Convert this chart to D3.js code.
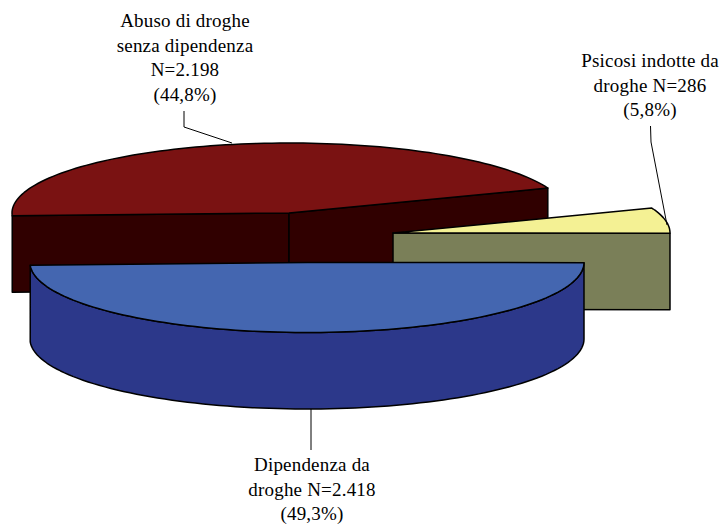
<!DOCTYPE html>
<html><head><meta charset="utf-8">
<script src="https://cdn.jsdelivr.net/npm/d3@7"></script>
<style>html,body{margin:0;padding:0;background:#fff}svg{display:block}</style>
</head><body><svg id="c" width="723" height="525"></svg>
<script>
const categories = ["Abuso di droghe senza dipendenza", "Psicosi indotte da droghe", "Dipendenza da droghe"];
const values = [2198, 286, 2418];
const topColors = ["#7A1212", "#F4F194", "#4466B0"];
const sideColors = ["#300000", "#7A7F58", "#2C388A"];
const labelLines = [
  ["Abuso di droghe", "senza dipendenza", "N=2.198", "(44,8%)"],
  ["Psicosi indotte da", "droghe N=286", "(5,8%)"],
  ["Dipendenza da", "droghe N=2.418", "(49,3%)"]
];
const labelAnchors = [[185, 27], [650, 67], [312, 471]];
const lineHeight = 24.5;
const centers = [[289, 213], [393, 233], [307, 262.5]];
const rx = 277, ry = 70, depth = 76.5;
const rotationDeg = -92.3;

const svg = d3.select("#c");
const toRad = Math.PI / 180;
const pie = d3.pie().sort(null).startAngle(rotationDeg * toRad).endAngle((rotationDeg + 360) * toRad);
const arcs = pie(values);
const sx = d3.scaleLinear().domain([-1, 1]).range([-rx, rx]);
const sy = d3.scaleLinear().domain([-1, 1]).range([-ry, ry]);
const pt = (i, a, dz = 0) => [centers[i][0] + sx(Math.sin(a)), centers[i][1] + sy(-Math.cos(a)) + dz];
const line = d3.line();
const poly = (pts, fill) => svg.append("path").attr("d", line(pts) + "Z").attr("fill", fill)
  .attr("stroke", "#000").attr("stroke-width", 1.5).attr("stroke-linejoin", "round");
const sampled = (s, e) => d3.range(0, 101).map(k => s + (e - s) * k / 100);

arcs.forEach((d, i) => {
  const c = centers[i], s = d.startAngle, e = d.endAngle;
  const side = sideColors[i];
  const a = pt(i, s), b = pt(i, e);
  if (i === 0) {
    poly([a, c, [c[0], c[1] + depth], [a[0], a[1] + depth]], side);
    poly([c, b, [b[0], b[1] + depth], [c[0], c[1] + depth]], side);
  } else if (i === 1) {
    poly([c, b, [b[0], b[1] + depth], [c[0], c[1] + depth]], side);
  } else {
    const arcPts = sampled(s, e);
    const upper = arcPts.map(t => pt(i, t));
    const lower = arcPts.map(t => pt(i, t, depth)).reverse();
    poly(upper.concat(lower), side);
  }
  poly([c].concat(sampled(s, e).map(t => pt(i, t))), topColors[i]);
});

labelLines.forEach((ls, i) => {
  const t = svg.append("text").attr("text-anchor", "middle")
    .attr("font-family", "'Liberation Serif','Times New Roman',serif")
    .attr("font-size", 19).attr("letter-spacing", 0.2).attr("fill", "#000");
  ls.forEach((l, j) => t.append("tspan").attr("x", labelAnchors[i][0])
    .attr("y", labelAnchors[i][1] + j * lineHeight).text(l));
});

const leaderPaths = [
  [[184, 111], [184, 127], [232, 143]],
  [[650.5, 126], [651, 142], [667, 225]],
  [[311, 409], [311, 450]]
];
leaderPaths.forEach(p => svg.append("path").attr("d", line(p)).attr("fill", "none").attr("stroke", "#000").attr("stroke-width", 1));
</script></body></html>
